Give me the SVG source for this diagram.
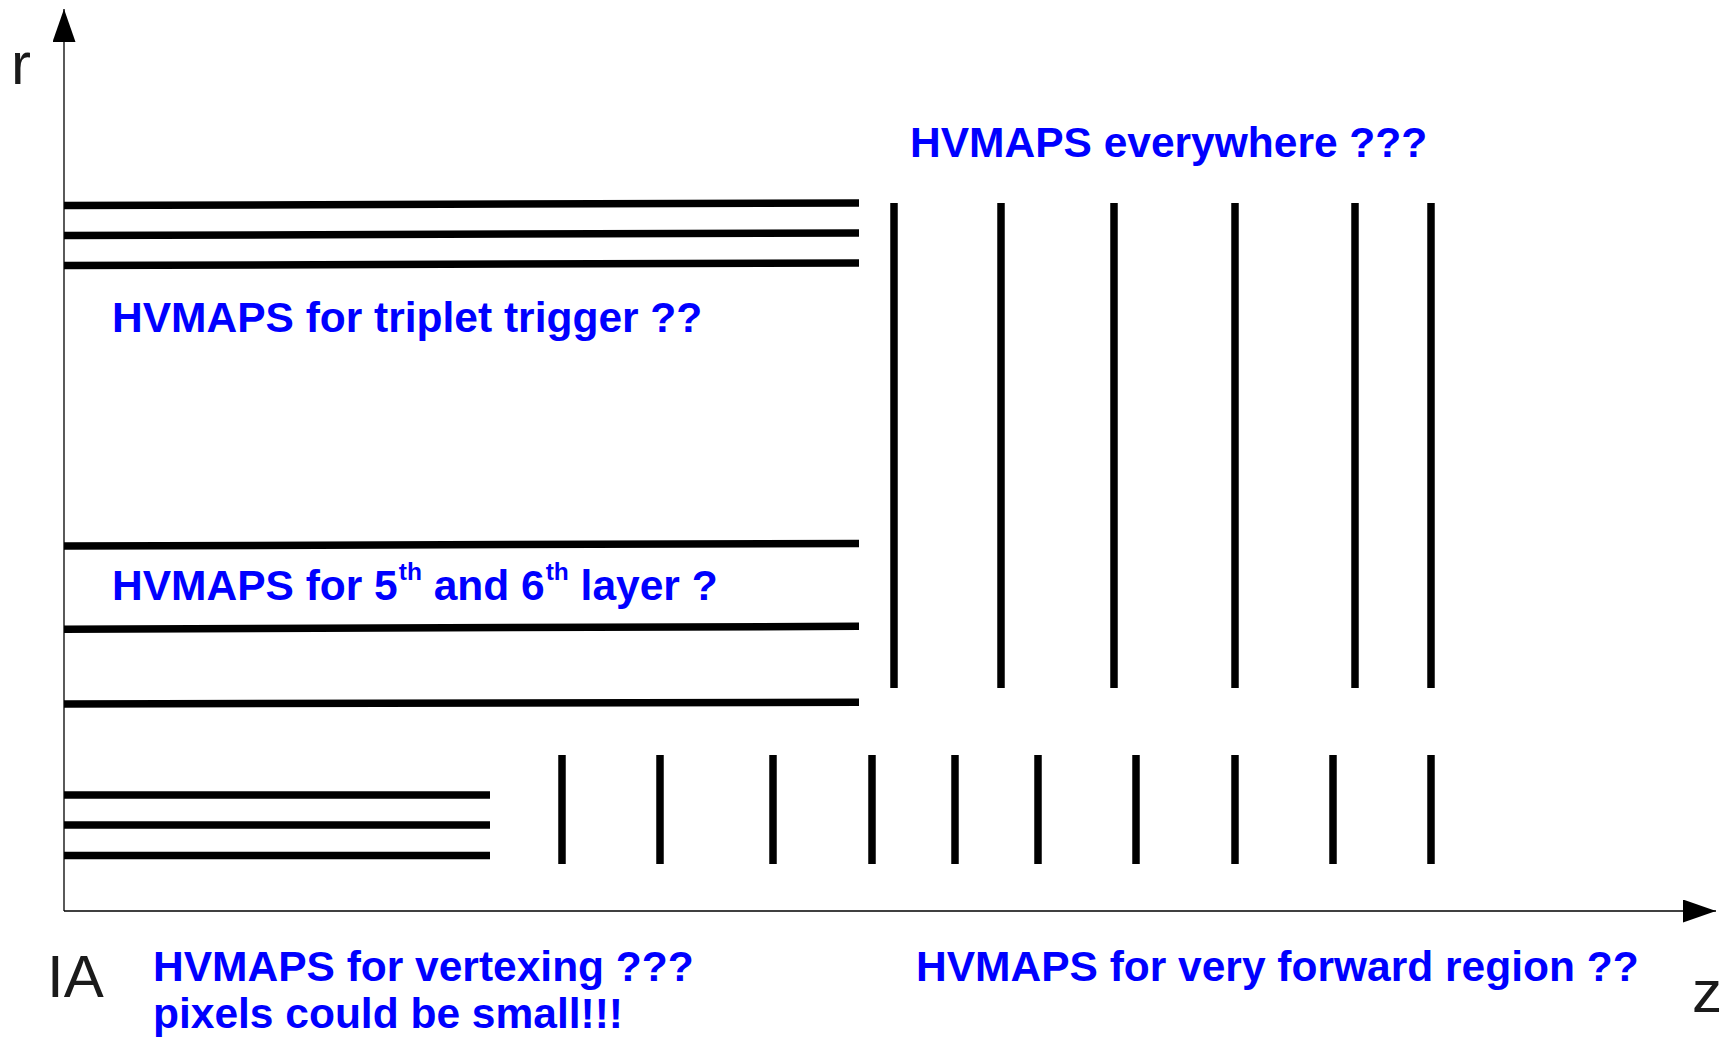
<svg xmlns="http://www.w3.org/2000/svg" width="1731" height="1038" viewBox="0 0 1731 1038">
  <style>
    .layer { stroke: #000; stroke-width: 7.5; stroke-linecap: butt; fill: none; }
    .axis { stroke: #000; stroke-width: 1.3; fill: none; }
    .note { font-family: "Liberation Sans", Arial, sans-serif; font-weight: bold; font-size: 42.5px; fill: #0000ff; }
    .sup { font-size: 24.5px; }
    .axislabel { font-family: "Liberation Sans", Arial, sans-serif; font-size: 60px; fill: #1a1a1a; }
  </style>
  <defs>
    <marker id="arrowhead" viewBox="0 0 33 23" refX="33" refY="11.5" markerWidth="33" markerHeight="23" markerUnits="userSpaceOnUse" orient="auto">
      <path d="M0,0 L33,11.5 L0,23 Z" fill="#000"/>
    </marker>
  </defs>

  <rect width="1731" height="1038" fill="#fff"/>

  <!-- r / z axes -->
  <g id="axes">
    <line class="axis" x1="64" y1="911" x2="64" y2="9" marker-end="url(#arrowhead)"/>
    <line class="axis" x1="64" y1="911" x2="1716" y2="911" marker-end="url(#arrowhead)"/>
  </g>

  <!-- outer barrel layers -->
  <g id="outer-barrel">
    <line class="layer" x1="64" y1="205.5" x2="859" y2="203"/>
    <line class="layer" x1="64" y1="235.5" x2="859" y2="233"/>
    <line class="layer" x1="64" y1="265.5" x2="859" y2="263"/>
  </g>

  <!-- middle barrel layers -->
  <g id="middle-barrel">
    <line class="layer" x1="64" y1="546" x2="859" y2="543.5"/>
    <line class="layer" x1="64" y1="629.3" x2="859" y2="626.3"/>
    <line class="layer" x1="64" y1="704" x2="859" y2="702.3"/>
  </g>

  <!-- inner (vertex) barrel layers -->
  <g id="inner-barrel">
    <line class="layer" x1="64" y1="795" x2="490" y2="795"/>
    <line class="layer" x1="64" y1="825" x2="490" y2="825"/>
    <line class="layer" x1="64" y1="855.5" x2="490" y2="855.5"/>
  </g>

  <!-- large forward disks -->
  <g id="outer-disks">
    <line class="layer" x1="894" y1="203" x2="894" y2="688"/>
    <line class="layer" x1="1001" y1="203" x2="1001" y2="688"/>
    <line class="layer" x1="1114" y1="203" x2="1114" y2="688"/>
    <line class="layer" x1="1235" y1="203" x2="1235" y2="688"/>
    <line class="layer" x1="1355" y1="203" x2="1355" y2="688"/>
    <line class="layer" x1="1431" y1="203" x2="1431" y2="688"/>
  </g>

  <!-- small forward disks -->
  <g id="inner-disks">
    <line class="layer" x1="562" y1="755" x2="562" y2="864"/>
    <line class="layer" x1="660" y1="755" x2="660" y2="864"/>
    <line class="layer" x1="773" y1="755" x2="773" y2="864"/>
    <line class="layer" x1="872" y1="755" x2="872" y2="864"/>
    <line class="layer" x1="955" y1="755" x2="955" y2="864"/>
    <line class="layer" x1="1038" y1="755" x2="1038" y2="864"/>
    <line class="layer" x1="1136" y1="755" x2="1136" y2="864"/>
    <line class="layer" x1="1235" y1="755" x2="1235" y2="864"/>
    <line class="layer" x1="1333" y1="755" x2="1333" y2="864"/>
    <line class="layer" x1="1431" y1="755" x2="1431" y2="864"/>
  </g>

  <!-- axis labels -->
  <g id="axis-labels">
    <text class="axislabel" x="11" y="84">r</text>
    <text class="axislabel" x="1692" y="1012" font-size="58">z</text>
    <text class="axislabel" x="47" y="997">IA</text>
  </g>

  <!-- annotations -->
  <g id="note-everywhere">
    <text class="note" x="910" y="157">HVMAPS everywhere ???</text>
  </g>
  <g id="note-triplet">
    <text class="note" x="112" y="332">HVMAPS for triplet trigger ??</text>
  </g>
  <g id="note-layers">
    <text class="note" x="112" y="600">HVMAPS for 5<tspan class="sup" dx="1" dy="-20">th</tspan><tspan dy="20"> and 6</tspan><tspan class="sup" dx="1" dy="-20">th</tspan><tspan dy="20"> layer ?</tspan></text>
  </g>
  <g id="note-vertexing">
    <text class="note" x="153" y="981">HVMAPS for vertexing ???</text>
    <text class="note" x="153" y="1028">pixels could be small!!!</text>
  </g>
  <g id="note-forward">
    <text class="note" x="916" y="981">HVMAPS for very forward region ??</text>
  </g>
</svg>
